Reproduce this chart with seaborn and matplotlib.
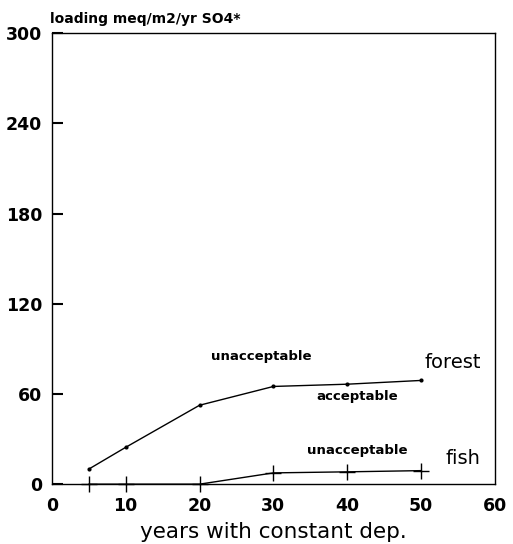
import numpy as np
import pandas as pd
import matplotlib
matplotlib.use("Agg")
import matplotlib.pyplot as plt
import seaborn as sns

# data
forest_years = [5, 10, 20, 30, 40, 50]
forest_load = [10, 24.5, 52.5, 65, 66.5, 69]
fish_years = [5, 10, 20, 30, 40, 50]
fish_load = [0, 0, 0, 7.5, 8.2, 9.0]
x_ticks = [0, 10, 20, 30, 40, 50, 60]
y_ticks = [0, 60, 120, 180, 240, 300]

sns.set_style("ticks")
plt.rcParams['font.family'] = ['DejaVu Sans']
plt.rcParams['text.color'] = 'black'
plt.rcParams['xtick.color'] = 'black'
plt.rcParams['ytick.color'] = 'black'
plt.rcParams['axes.labelcolor'] = 'black'

forest = pd.DataFrame({'years': forest_years, 'load': forest_load})
fish = pd.DataFrame({'years': fish_years, 'load': fish_load})

fig = plt.figure(figsize=(5.13, 5.44), dpi=100)
ax = fig.add_axes([0.101, 0.110, 0.864, 0.829])

sns.lineplot(data=forest, x='years', y='load', ax=ax, color='black', linewidth=1.0,
             marker='o', markersize=3, markeredgewidth=0)
sns.lineplot(data=fish, x='years', y='load', ax=ax, color='black', linewidth=1.0,
             marker='+', markersize=11, markeredgewidth=1.0,
             markeredgecolor='black', clip_on=False)

ax.set_xlim(0, 60)
ax.set_ylim(0, 300)
ax.set_xticks(x_ticks)
ax.set_yticks(y_ticks)
ax.tick_params(axis='y', left=True, direction='in', length=8, width=1.5,
               colors='black', labelsize=12.5, pad=7)
ax.tick_params(axis='x', length=0, labelsize=12.5, pad=9)
for lab in ax.get_xticklabels() + ax.get_yticklabels():
    lab.set_fontweight('bold')
for s in ax.spines.values():
    s.set_visible(True)
    s.set_color('black')
    s.set_linewidth(1.0)

ax.set_xlabel('years with constant dep.', fontsize=15.5, labelpad=5)
ax.set_ylabel('')
fig.text(0.097, 0.958, 'loading meq/m2/yr SO4*', fontsize=10, fontweight='bold')

ax.text(28.3, 85, 'unacceptable', fontsize=9.5, fontweight='bold', ha='center', va='center')
ax.text(41.4, 58.2, 'acceptable', fontsize=9.5, fontweight='bold', ha='center', va='center')
ax.text(41.3, 22.2, 'unacceptable', fontsize=9.5, fontweight='bold', ha='center', va='center')
ax.text(54.3, 80.7, 'forest', fontsize=14, ha='center', va='center')
ax.text(55.7, 17.3, 'fish', fontsize=14, ha='center', va='center')

fig.savefig('out.png', dpi=100)
